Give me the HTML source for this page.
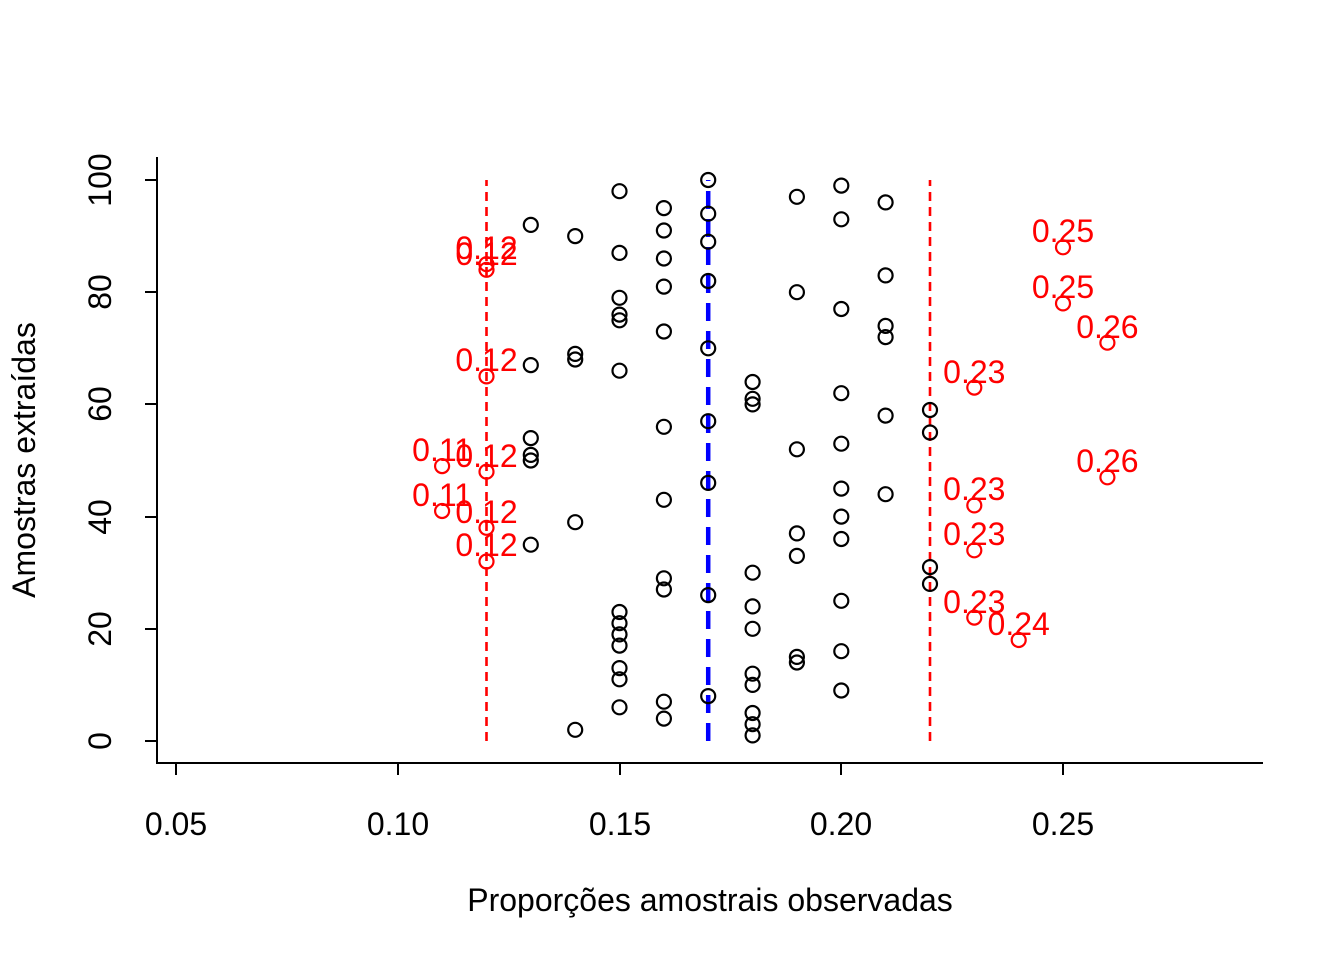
<!DOCTYPE html>
<html><head><meta charset="utf-8"><style>
html,body{margin:0;padding:0;background:#fff;}
svg{display:block;font-family:"Liberation Sans",Arial,sans-serif;}
</style></head><body>
<svg width="1344" height="960" viewBox="0 0 1344 960" xmlns="http://www.w3.org/2000/svg">
<rect width="1344" height="960" fill="#fff"/>
<g stroke="#000" stroke-width="2" fill="none">
<polyline points="157,157 157,763 1263,763"/>
<line x1="176" y1="763" x2="176" y2="775"/><line x1="398" y1="763" x2="398" y2="775"/><line x1="620" y1="763" x2="620" y2="775"/><line x1="841" y1="763" x2="841" y2="775"/><line x1="1063" y1="763" x2="1063" y2="775"/>
<line x1="145" y1="741" x2="157" y2="741"/><line x1="145" y1="629" x2="157" y2="629"/><line x1="145" y1="517" x2="157" y2="517"/><line x1="145" y1="404" x2="157" y2="404"/><line x1="145" y1="292" x2="157" y2="292"/><line x1="145" y1="180" x2="157" y2="180"/>
</g>
<g font-size="32" fill="#000" text-anchor="middle">
<text x="176" y="835">0.05</text><text x="398" y="835">0.10</text><text x="620" y="835">0.15</text><text x="841" y="835">0.20</text><text x="1063" y="835">0.25</text>
<text transform="translate(111,741) rotate(-90)">0</text>
<text transform="translate(111,629) rotate(-90)">20</text>
<text transform="translate(111,517) rotate(-90)">40</text>
<text transform="translate(111,404) rotate(-90)">60</text>
<text transform="translate(111,292) rotate(-90)">80</text>
<text transform="translate(111,180) rotate(-90)">100</text>
<text x="710" y="911">Proporções amostrais observadas</text>
<text transform="translate(35,460) rotate(-90)">Amostras extraídas</text>
</g>
<g fill="none">
<line x1="486.5" y1="741" x2="486.5" y2="180" stroke="#f00" stroke-width="2.6" stroke-dasharray="9,6"/>
<line x1="930" y1="741" x2="930" y2="180" stroke="#f00" stroke-width="2.6" stroke-dasharray="9,6"/>
<line x1="708.2" y1="741" x2="708.2" y2="180" stroke="#00f" stroke-width="4.5" stroke-dasharray="18,10"/>
</g>
<g fill="none" stroke="#000" stroke-width="2.2">
<circle cx="530.8" cy="224.9" r="7"/><circle cx="530.8" cy="365.1" r="7"/><circle cx="530.8" cy="438.1" r="7"/><circle cx="530.8" cy="454.9" r="7"/><circle cx="530.8" cy="460.5" r="7"/><circle cx="530.8" cy="544.7" r="7"/>
<circle cx="575.2" cy="236.1" r="7"/><circle cx="575.2" cy="353.9" r="7"/><circle cx="575.2" cy="359.5" r="7"/><circle cx="575.2" cy="522.2" r="7"/><circle cx="575.2" cy="729.8" r="7"/>
<circle cx="619.5" cy="191.2" r="7"/><circle cx="619.5" cy="252.9" r="7"/><circle cx="619.5" cy="297.8" r="7"/><circle cx="619.5" cy="314.6" r="7"/><circle cx="619.5" cy="320.3" r="7"/><circle cx="619.5" cy="370.7" r="7"/><circle cx="619.5" cy="612" r="7"/><circle cx="619.5" cy="623.2" r="7"/><circle cx="619.5" cy="634.4" r="7"/><circle cx="619.5" cy="645.6" r="7"/><circle cx="619.5" cy="668.1" r="7"/><circle cx="619.5" cy="679.3" r="7"/><circle cx="619.5" cy="707.3" r="7"/>
<circle cx="663.9" cy="208.1" r="7"/><circle cx="663.9" cy="230.5" r="7"/><circle cx="663.9" cy="258.5" r="7"/><circle cx="663.9" cy="286.6" r="7"/><circle cx="663.9" cy="331.5" r="7"/><circle cx="663.9" cy="426.8" r="7"/><circle cx="663.9" cy="499.8" r="7"/><circle cx="663.9" cy="578.3" r="7"/><circle cx="663.9" cy="589.5" r="7"/><circle cx="663.9" cy="701.7" r="7"/><circle cx="663.9" cy="718.6" r="7"/>
<circle cx="708.2" cy="180" r="7"/><circle cx="708.2" cy="213.7" r="7"/><circle cx="708.2" cy="241.7" r="7"/><circle cx="708.2" cy="281" r="7"/><circle cx="708.2" cy="348.3" r="7"/><circle cx="708.2" cy="421.2" r="7"/><circle cx="708.2" cy="482.9" r="7"/><circle cx="708.2" cy="595.1" r="7"/><circle cx="708.2" cy="696.1" r="7"/>
<circle cx="752.6" cy="382" r="7"/><circle cx="752.6" cy="398.8" r="7"/><circle cx="752.6" cy="404.4" r="7"/><circle cx="752.6" cy="572.7" r="7"/><circle cx="752.6" cy="606.4" r="7"/><circle cx="752.6" cy="628.8" r="7"/><circle cx="752.6" cy="673.7" r="7"/><circle cx="752.6" cy="684.9" r="7"/><circle cx="752.6" cy="713" r="7"/><circle cx="752.6" cy="724.2" r="7"/><circle cx="752.6" cy="735.4" r="7"/>
<circle cx="796.9" cy="196.8" r="7"/><circle cx="796.9" cy="292.2" r="7"/><circle cx="796.9" cy="449.3" r="7"/><circle cx="796.9" cy="533.4" r="7"/><circle cx="796.9" cy="555.9" r="7"/><circle cx="796.9" cy="656.9" r="7"/><circle cx="796.9" cy="662.5" r="7"/>
<circle cx="841.3" cy="185.6" r="7"/><circle cx="841.3" cy="219.3" r="7"/><circle cx="841.3" cy="309" r="7"/><circle cx="841.3" cy="393.2" r="7"/><circle cx="841.3" cy="443.7" r="7"/><circle cx="841.3" cy="488.6" r="7"/><circle cx="841.3" cy="516.6" r="7"/><circle cx="841.3" cy="539" r="7"/><circle cx="841.3" cy="600.8" r="7"/><circle cx="841.3" cy="651.2" r="7"/><circle cx="841.3" cy="690.5" r="7"/>
<circle cx="885.6" cy="202.4" r="7"/><circle cx="885.6" cy="275.4" r="7"/><circle cx="885.6" cy="325.9" r="7"/><circle cx="885.6" cy="337.1" r="7"/><circle cx="885.6" cy="415.6" r="7"/><circle cx="885.6" cy="494.2" r="7"/>
<circle cx="930" cy="410" r="7"/><circle cx="930" cy="432.5" r="7"/><circle cx="930" cy="567.1" r="7"/><circle cx="930" cy="583.9" r="7"/>
</g>
<g fill="none" stroke="#f00" stroke-width="2.2">
<circle cx="486.5" cy="264.2" r="7"/><circle cx="486.5" cy="269.8" r="7"/><circle cx="486.5" cy="376.4" r="7"/><circle cx="486.5" cy="471.7" r="7"/><circle cx="486.5" cy="527.8" r="7"/><circle cx="486.5" cy="561.5" r="7"/>
<circle cx="442.1" cy="466.1" r="7"/><circle cx="442.1" cy="511" r="7"/>
<circle cx="974.3" cy="387.6" r="7"/><circle cx="974.3" cy="505.4" r="7"/><circle cx="974.3" cy="550.3" r="7"/><circle cx="974.3" cy="617.6" r="7"/>
<circle cx="1018.7" cy="640" r="7"/>
<circle cx="1063" cy="247.3" r="7"/><circle cx="1063" cy="303.4" r="7"/>
<circle cx="1107.4" cy="342.7" r="7"/><circle cx="1107.4" cy="477.3" r="7"/>
</g>
<g fill="#f00" font-size="32" text-anchor="middle">
<text x="486.5" y="259">0.12</text><text x="486.5" y="265">0.12</text><text x="486.5" y="371">0.12</text><text x="486.5" y="467">0.12</text><text x="486.5" y="523">0.12</text><text x="486.5" y="556">0.12</text>
<text x="442.1" y="461">0.11</text><text x="442.1" y="506">0.11</text>
<text x="974.3" y="383">0.23</text><text x="974.3" y="500">0.23</text><text x="974.3" y="545">0.23</text><text x="974.3" y="613">0.23</text>
<text x="1018.7" y="635">0.24</text>
<text x="1063" y="242">0.25</text><text x="1063" y="298">0.25</text>
<text x="1107.4" y="338">0.26</text><text x="1107.4" y="472">0.26</text>
</g>
</svg>
</body></html>
